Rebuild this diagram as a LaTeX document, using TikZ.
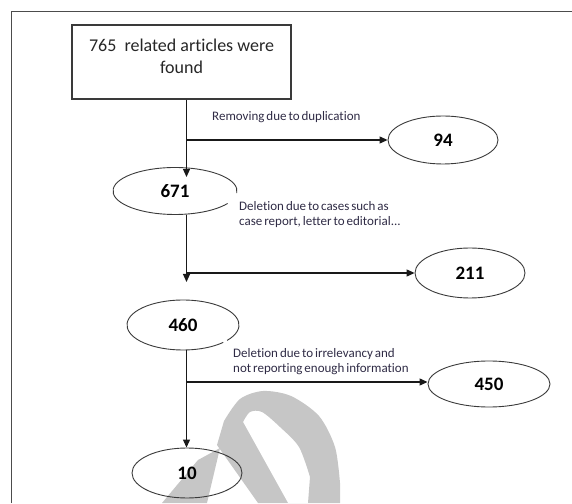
\documentclass[tikz,border=0pt]{standalone}
\usepackage{fontspec}
\setmainfont[Ligatures=NoCommon]{Carlito}
\usetikzlibrary{shapes.geometric,arrows.meta}
\definecolor{wmgray}{HTML}{C6C6C6}
\definecolor{labcol}{HTML}{2F2B45}
\definecolor{ellcol}{HTML}{3A3A3A}
\newcommand\mytightsp{\spaceskip=0.15em plus 0.05em minus 0.02em\relax}
\begin{document}
\begin{tikzpicture}[x=1pt,y=1pt,
  ell/.style={ellipse, inner sep=0pt, font=\fontsize{19}{22}\selectfont\bfseries},
  elldraw/.style={draw=ellcol, line width=0.9pt},
  flow/.style={draw=black!90, line width=1.2pt},
  arr/.style={flow, -{Triangle[length=8pt,width=7pt]}},
  lab/.style={anchor=west, inner sep=0pt, align=left, text=labcol,
    font=\fontsize{13}{15}\selectfont\mytightsp},
  boxstyle/.style={draw=ellcol, line width=1.2pt, minimum width=219pt, minimum height=74pt, inner sep=0pt},
  boxtxt/.style={align=center, inner sep=0pt, font=\fontsize{18}{22}\selectfont, text=black!85}
  ]
\useasboundingbox (0,0) rectangle (572,503);
% watermark
\fill[wmgray, even odd rule] (258,0) -- (217,58) -- plot[smooth] coordinates {(224,82) (240,104) (263,112) (291,107) (319,87) (335,56) (340,20)} -- (340,0) -- cycle
  (288,0) -- plot[smooth] coordinates {(243,81) (250,91) (262,91) (280,76) (299,56) (310,26)} -- (308,0) -- cycle;
\fill[wmgray] (162,0) -- (198,43) -- (220,55) -- (207,0) -- cycle;
% frame
\draw[color=black!70, line width=0.9pt] (11,0) -- (11,492) -- (572,492);
% nodes
\node[boxstyle] (box) at (181.5,441) {};
\node[boxtxt] (boxtext) at (181.5,447) {765\ \ related articles were\\found};
\node[ell, elldraw, minimum width=110pt, minimum height=48pt] (n94) at (443,363) {94};
\node[ell, minimum width=124pt, minimum height=47pt] (n671) at (175,312) {671};
\draw[elldraw] ([shift={(-5:62pt and 23.5pt)}]n671.center) arc[start angle=-5, end angle=328, x radius=62pt, y radius=23.5pt];
\node[ell, elldraw, minimum width=110pt, minimum height=50pt] (n211) at (470,230) {211};
\node[ell, minimum width=112pt, minimum height=50pt] (n460) at (183,178) {460};
\draw[elldraw] ([shift={(-38:56pt and 25pt)}]n460.center) arc[start angle=-38, end angle=316, x radius=56pt, y radius=25pt];
\node[ell, elldraw, minimum width=122pt, minimum height=46pt] (n450) at (489,119) {450};
\node[ell, elldraw, minimum width=110pt, minimum height=50pt] (n10) at (187,30) {10};
% labels
\node[lab] (l1) at (212,386) {Removing due to duplication};
\node[lab] (l2) at (239,288.5) {Deletion due to cases such as\\case report, letter to editorial...};
\node[lab] (l3) at (233,141) {Deletion due to irrelevancy and\\not reporting enough information};
% connectors
\coordinate (j1) at (186.5,363);
\coordinate (t1) at (186.5,326);
\draw[flow] (box.south -| j1) -- (j1);
\draw[arr] (j1) -- (t1);
\draw[arr] (j1) -- (n94.west);
\coordinate (j2) at (186.5,230);
\coordinate (t2) at (186.5,221);
\draw[flow] (n671.south -| j2) -- (j2);
\draw[arr] (j2) -- (t2);
\draw[arr] (j2) -- (n211.west);
\coordinate (j3) at (186.5,121);
\draw[flow] (n460.south -| j3) -- (j3);
\draw[arr] (j3) -- (j3 |- n10.north);
\draw[arr] (j3) -- (j3 -| n450.west);
\end{tikzpicture}
\end{document}
